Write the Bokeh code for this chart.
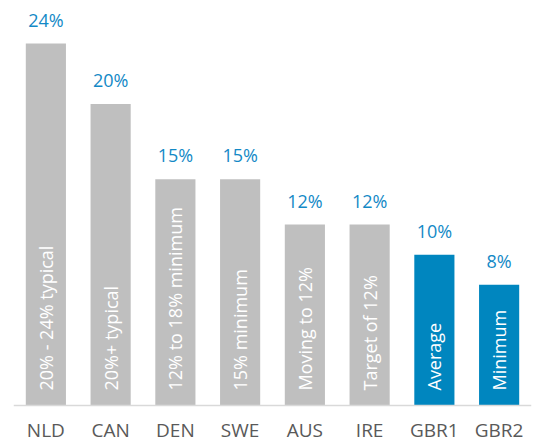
from bokeh.plotting import figure
from bokeh.models import ColumnDataSource, Range1d, CategoricalAxis
from bokeh.core.properties import value
from bokeh.embed import file_html
from bokeh.resources import INLINE
import math

categories = ["NLD", "CAN", "DEN", "SWE", "AUS", "IRE", "GBR1", "GBR2"]
values = [24, 20, 15, 15, 12, 12, 10, 8]
value_labels = ["24%", "20%", "15%", "15%", "12%", "12%", "10%", "8%"]
notes = ["20% - 24% typical", "20%+ typical", "12% to 18% minimum", "15% minimum",
         "Moving to 12%", "Target of 12%", "Average", "Minimum"]
colors = ["#BFBFBF"] * 6 + ["#0086BF"] * 2

FONT = "Open Sans"
PX = 15.08  # pixels per percentage point (used only for text offsets)

src = ColumnDataSource(dict(
    cat=categories, val=values, lab=value_labels, note=notes, color=colors,
    lab_y=[v + 24 / PX for v in values],
    note_y=[15 / PX] * len(values),
))

p = figure(x_range=categories, y_range=Range1d(-36 / PX, 405 / PX),
           width=536, height=441, output_backend="svg", toolbar_location=None,
           x_axis_location=None, y_axis_location=None,
           min_border_left=13, min_border_right=5, min_border_top=0, min_border_bottom=0)

p.vbar(x="cat", top="val", width=0.62, color="color", source=src, line_color=None)

p.text(x="cat", y="lab_y", text="lab", source=src, text_align="center",
       text_baseline="alphabetic", text_color="#1389C6",
       text_font=value(FONT), text_font_size="18px")

p.text(x="cat", y="note_y", text="note", source=src, angle=math.pi / 2,
       text_align="left", text_baseline="middle", text_color="white",
       text_font=value(FONT), text_font_size="18px")

xaxis = CategoricalAxis(fixed_location=0)
xaxis.axis_line_color = "#D9D9D9"
xaxis.axis_line_width = 1.5
xaxis.major_tick_line_color = None
xaxis.minor_tick_line_color = None
xaxis.major_label_standoff = 5
xaxis.major_label_text_font = FONT
xaxis.major_label_text_font_size = "19px"
xaxis.major_label_text_color = "#595959"
p.add_layout(xaxis, "below")

p.xgrid.visible = False
p.ygrid.visible = False
p.outline_line_color = None
p.x_range.range_padding = 0

open("out.html", "w").write(file_html(p, INLINE))
